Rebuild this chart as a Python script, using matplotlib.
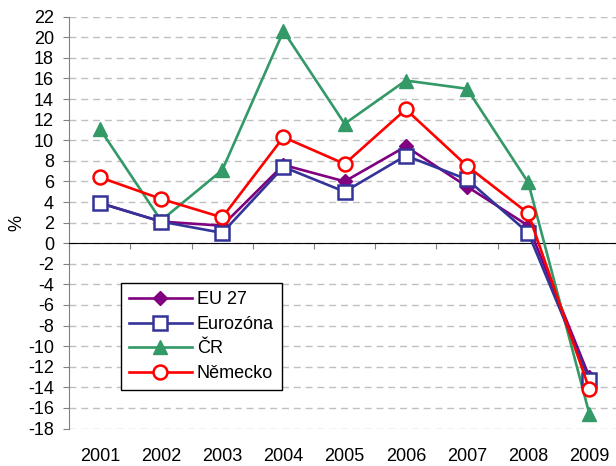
import matplotlib.pyplot as plt
from matplotlib.ticker import FixedLocator, NullFormatter

# ---------------------------
# Data
# ---------------------------
years = ["2001", "2002", "2003", "2004", "2005", "2006", "2007", "2008", "2009"]
eu27 = [3.9, 2.1, 1.7, 7.6, 6.0, 9.4, 5.5, 1.7, -13.0]
eurozona = [3.9, 2.1, 1.0, 7.4, 5.0, 8.5, 6.2, 1.0, -13.3]
cr = [11.1, 2.2, 7.1, 20.6, 11.6, 15.8, 15.0, 5.9, -16.6]
nemecko = [6.4, 4.3, 2.5, 10.3, 7.7, 13.0, 7.5, 2.9, -14.2]
y_ticks = list(range(-18, 23, 2))

plt.rcParams["font.family"] = ["Liberation Sans", "DejaVu Sans"]
plt.rcParams["font.size"] = 13
plt.rcParams["axes.unicode_minus"] = False

fig = plt.figure(figsize=(6.16, 4.66), dpi=100)
ax = fig.add_axes([69.3 / 616, 1 - 428.5 / 466, (620 - 69.3) / 616, (428.5 - 16.7) / 466])

x = list(range(len(years)))
lw = 1.9
ax.plot(x, eu27, color="#800080", lw=lw, marker="D", ms=7.5,
        mfc="#800080", mec="#800080", label="EU 27", zorder=3)
ax.plot(x, eurozona, color="#333399", lw=lw, marker="s", ms=9.5,
        mfc="white", mec="#333399", mew=1.8, label="Eurozóna", zorder=4)
ax.plot(x, cr, color="#339966", lw=lw, marker="^", ms=10,
        mfc="#339966", mec="#339966", label="ČR", zorder=3)
ax.plot(x, nemecko, color="#FF0000", lw=lw, marker="o", ms=10,
        mfc="white", mec="#FF0000", mew=1.8, label="Německo", zorder=5)

ax.set_xlim(-0.5, len(years) - 0.5)
ax.set_ylim(-18, 22)
ax.set_yticks(y_ticks)
ax.yaxis.grid(True, color="#c0c0c0", linestyle=(0, (5, 3.5)), linewidth=1)
ax.set_axisbelow(True)
ax.set_ylabel("%", fontsize=13, labelpad=2)

for s in ["top", "right"]:
    ax.spines[s].set_visible(False)
ax.spines["left"].set_color("#808080")
ax.spines["bottom"].set_position(("data", 0))
ax.spines["bottom"].set_color("black")

# ticks on the zero line at category boundaries
ax.xaxis.set_major_locator(FixedLocator([i - 0.5 for i in range(len(years) + 1)]))
ax.xaxis.set_major_formatter(NullFormatter())
ax.tick_params(axis="x", direction="out", length=4, color="#808080")
ax.tick_params(axis="y", direction="out", length=4, color="#808080", pad=7)

# category labels at the bottom
sec = ax.secondary_xaxis(0)
sec.set_xticks(x)
sec.set_xticklabels(years)
sec.tick_params(length=0, pad=14)
sec.spines["bottom"].set_visible(False)

leg = ax.legend(loc="upper left", bbox_to_anchor=(0.093, 0.353), borderaxespad=0,
                fancybox=False, edgecolor="black", framealpha=1,
                handlelength=3.5, handletextpad=0.28, labelspacing=0.42,
                borderpad=0.45, fontsize=13)
leg.get_frame().set_linewidth(1)

fig.savefig("out.png", dpi=100)
